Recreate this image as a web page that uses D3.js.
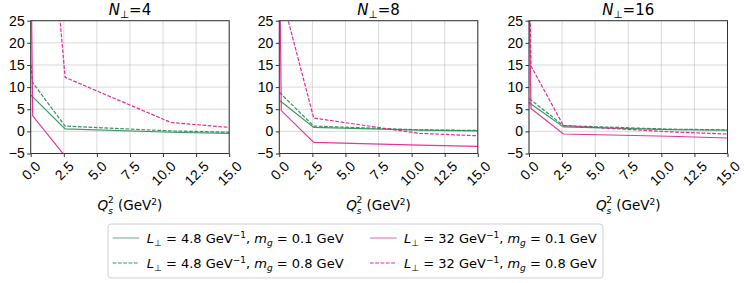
<!DOCTYPE html>
<html lang="en">
<head>
<meta charset="UTF-8">
<title>Qs2 panels</title>
<script src="https://cdn.jsdelivr.net/npm/d3@7"></script>
<style>
  body { margin: 0; background: #fff; }
  svg { font-family: "DejaVu Sans", sans-serif; }
  .tick text { font-size: 14px; fill: #000; }
</style>
</head>
<body>
<svg id="chart" width="748" height="283"></svg>
<script>
// ---- data ----
const qs2 = [0.02, 0.15, 2.6, 10.6, 15];
const panelN = [4, 8, 16];
const xTicks = [0, 2.5, 5, 7.5, 10, 12.5, 15];
const yTicks = [-5, 0, 5, 10, 15, 20, 25];

// series per panel (N=4, N=8, N=16)
const greenSolid   = [[8.2, 7.8, 0.55, -0.2, -0.45], [7.0, 6.7, 0.9, 0.3, 0.1],  [6.5, 6.2, 1.0, 0.4, 0.25]];
const greenDashed  = [[15, 11, 1.2, 0.1, -0.2],      [8.8, 8.4, 1.2, 0.35, 0.2], [7.4, 7.1, 1.3, 0.5, 0.35]];
const pinkSolid    = [[40, 3.5, -5.6, -7, -7.5],     [40, 4.7, -2.5, -3.1, -3.4], [30, 5.2, -0.6, -1.1, -1.5]];
const pinkDashed   = [[120, 95, 12.2, 2.0, 0.9],     [45, 31, 3.0, -0.45, -1.0], [40, 14.8, 1.3, -0.1, -0.6]];

const seriesInfo = [
  {data: greenSolid,  color: "#2e8b57", dash: null,  L: "4.8", m: "0.1"},
  {data: greenDashed, color: "#2e8b57", dash: "3.7,1.6", L: "4.8", m: "0.8"},
  {data: pinkSolid,   color: "#e0218a", dash: null,  L: "32", m: "0.1"},
  {data: pinkDashed,  color: "#e0218a", dash: "3.7,1.6", L: "32", m: "0.8"}
];

const svg = d3.select("#chart");
const lefts = [30.7, 279.3, 529];
const pw = 198.5, plotTop = 20.7, plotBottom = 153.5;

lefts.forEach((left, p) => {
  const x = d3.scaleLinear().domain([0, 15]).range([left, left + pw]);
  const y = d3.scaleLinear().domain([-5, 25]).range([plotBottom, plotTop]);
  const g = svg.append("g");

  // grid
  g.append("g").selectAll("line").data(xTicks).enter().append("line")
    .attr("x1", d => x(d)).attr("x2", d => x(d)).attr("y1", plotTop).attr("y2", plotBottom)
    .attr("stroke", "#b0b0b0").attr("stroke-opacity", 0.6).attr("stroke-width", 0.8);
  g.append("g").selectAll("line").data(yTicks).enter().append("line")
    .attr("y1", d => y(d)).attr("y2", d => y(d)).attr("x1", left).attr("x2", left + pw)
    .attr("stroke", "#b0b0b0").attr("stroke-opacity", 0.6).attr("stroke-width", 0.8);

  // clip
  const cid = "clip" + p;
  svg.append("clipPath").attr("id", cid).append("rect")
    .attr("x", left).attr("y", plotTop).attr("width", pw).attr("height", plotBottom - plotTop);

  const line = d3.line().x((d, i) => x(qs2[i])).y(d => y(d));
  const lg = g.append("g").attr("clip-path", `url(#${cid})`);
  seriesInfo.forEach(s => {
    lg.append("path").attr("d", line(s.data[p]))
      .attr("fill", "none").attr("stroke", s.color).attr("stroke-width", 1.2)
      .attr("stroke-opacity", s.dash ? 0.95 : 0.9)
      .attr("stroke-dasharray", s.dash);
  });

  // axes
  const yAxis = g.append("g").attr("transform", `translate(${left},0)`)
    .call(d3.axisLeft(y).tickValues(yTicks).tickSize(3.5).tickPadding(2.5)
      .tickFormat(d => d < 0 ? "\u2212" + Math.abs(d) : d));
  yAxis.select(".domain").remove();
  yAxis.selectAll(".tick line").attr("stroke", "#333");

  const xAxis = g.append("g").attr("transform", `translate(0,${plotBottom})`)
    .call(d3.axisBottom(x).tickValues(xTicks).tickSize(3.5).tickFormat(d3.format(".1f")));
  xAxis.select(".domain").remove();
  xAxis.selectAll(".tick line").attr("stroke", "#333");
  xAxis.selectAll(".tick text").each(function () {
    const t = d3.select(this);
    const w = this.getComputedTextLength();
    const h = 10.5;
    const cy = 6.5 + (w + h) * 0.7071 / 2;
    t.attr("y", null).attr("dy", "0.35em").attr("text-anchor", "middle")
      .attr("transform", `translate(0,${cy}) rotate(-45)`);
  });

  // frame
  g.append("rect").attr("x", left).attr("y", plotTop).attr("width", pw).attr("height", plotBottom - plotTop)
    .attr("fill", "none").attr("stroke", "#333").attr("stroke-width", 1);

  // title
  const title = g.append("text").attr("x", left + pw / 2).attr("y", 15)
    .attr("text-anchor", "middle").attr("font-size", 15);
  title.append("tspan").attr("font-style", "italic").text("N");
  title.append("tspan").attr("font-size", 10.5).attr("dy", 3).text("\u22a5");
  title.append("tspan").attr("dy", -3).text("=" + panelN[p]);

  // x label
  const xl = g.append("text").attr("x", left + pw / 2).attr("y", 210)
    .attr("text-anchor", "middle").attr("font-size", 13.5);
  xl.append("tspan").attr("font-style", "italic").text("Q");
  xl.append("tspan").attr("font-size", 9).attr("font-style", "italic").attr("dy", 3.5).text("s");
  xl.append("tspan").attr("font-size", 9).attr("dx", -5).attr("dy", -10.8).text("2");
  xl.append("tspan").attr("dy", 7.3).text(" (GeV");
  xl.append("tspan").attr("font-size", 9).attr("dy", -5).text("2");
  xl.append("tspan").attr("dy", 5).text(")");
});

// legend
const leg = svg.append("g");
leg.append("rect").attr("x", 108).attr("y", 224).attr("width", 495).attr("height", 54)
  .attr("rx", 3).attr("fill", "#fff").attr("stroke", "#d0d0d0");
const legPos = [[112.7, 238], [112.7, 263], [370, 238], [370, 263]];
seriesInfo.forEach((s, i) => {
  const [lx, ly] = legPos[i];
  leg.append("line").attr("x1", lx).attr("x2", lx + 26.6).attr("y1", ly).attr("y2", ly)
    .attr("stroke", s.color).attr("stroke-width", 1.2)
    .attr("stroke-opacity", s.dash ? 0.95 : 0.6)
    .attr("stroke-dasharray", s.dash);
  const t = leg.append("text").attr("x", lx + 34).attr("y", ly + 4.5).attr("font-size", 13);
  t.append("tspan").attr("font-style", "italic").text("L");
  t.append("tspan").attr("font-size", 9).attr("dy", 3).text("\u22a5");
  t.append("tspan").attr("dy", -3).text(" = " + s.L + " GeV");
  t.append("tspan").attr("font-size", 9).attr("dy", -5).text("\u22121");
  t.append("tspan").attr("dy", 5).text(", ");
  t.append("tspan").attr("font-style", "italic").text("m");
  t.append("tspan").attr("font-style", "italic").attr("font-size", 9).attr("dy", 3).text("g");
  t.append("tspan").attr("dy", -3).text(" = " + s.m + " GeV");
});
</script>
</body>
</html>
